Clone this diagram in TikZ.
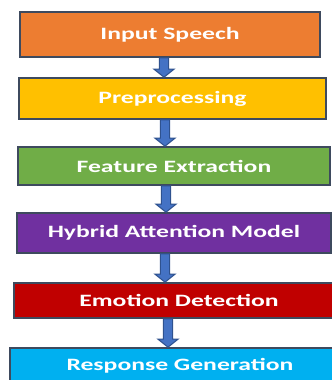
\documentclass[tikz,border=0pt]{standalone}
\usepackage{fontspec}
\setmainfont{Carlito}
\newfontfamily\stagefont[FakeStretch=1.48]{Carlito}
\usetikzlibrary{calc}

\definecolor{speech}{HTML}{ED7D31}
\definecolor{prep}{HTML}{FFC000}
\definecolor{feat}{HTML}{70AD47}
\definecolor{hybrid}{HTML}{7030A0}
\definecolor{emo}{HTML}{C00000}
\definecolor{resp}{HTML}{00B0F0}
\definecolor{edge}{HTML}{3E4A5E}
\definecolor{arrowfill}{HTML}{4472C4}
\definecolor{arrowedge}{HTML}{2F528F}

\tikzset{
  stage/.style={draw=edge, line width=1.2pt, text=white,
    font=\stagefont\fontsize{13}{15}\selectfont\bfseries, inner sep=0pt},
  flow/.style={draw=arrowedge, fill=arrowfill, line width=0.8pt, line join=miter}
}

% block arrow from the bottom of #1 to the top of #2, at x = #3 (px)
\newcommand{\flowarrow}[3]{%
  \draw[flow] let \p1=(#1.south), \p2=(#2.north) in
    ({#3*0.75pt-3.5pt},\y1) -- ({#3*0.75pt-3.5pt},\y2+6pt)
    -- ({#3*0.75pt-7.5pt},\y2+6pt) -- ({#3*0.75pt},\y2)
    -- ({#3*0.75pt+7.5pt},\y2+6pt) -- ({#3*0.75pt+3.5pt},\y2+6pt)
    -- ({#3*0.75pt+3.5pt},\y1) -- cycle;}

\begin{document}
\begin{tikzpicture}[x=0.75pt, y=-0.75pt]
\useasboundingbox (0,0) rectangle (332,380);
\clip (0,0) rectangle (332,380);

% stages, top to bottom
\node[stage, fill=speech, minimum width=225pt, minimum height=33.75pt] (input) at (170,34.5) {Input Speech};
\node[stage, fill=prep, minimum width=230.25pt, minimum height=30.75pt] (prep) at (172.5,98.5) {Preprocessing};
\node[stage, fill=feat, minimum width=234pt, minimum height=28.5pt] (feat) at (174,166) {Feature Extraction};
\node[stage, fill=hybrid, minimum width=235.5pt, minimum height=30pt] (hybrid) at (174,233) {Hybrid Attention Model};
\node[stage, fill=emo, minimum width=247.5pt, minimum height=26.25pt] (emo) at (179,300.5) {Emotion Detection};
\node[stage, fill=resp, minimum width=255pt, minimum height=27pt] (resp) at (180,366) {Response Generation};

% arrows between the stages
\flowarrow{input}{prep}{164}
\flowarrow{prep}{feat}{165}
\flowarrow{feat}{hybrid}{166}
\flowarrow{hybrid}{emo}{165}
\flowarrow{emo}{resp}{168}

\end{tikzpicture}
\end{document}
